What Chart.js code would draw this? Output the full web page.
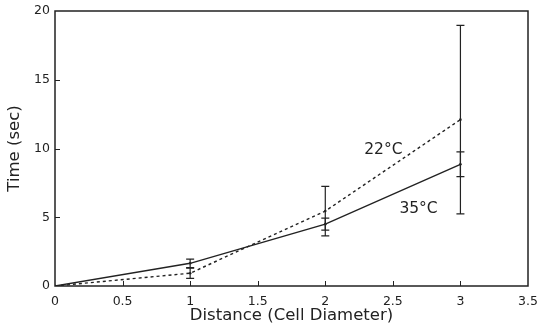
<!DOCTYPE html>
<html>
<head>
<meta charset="utf-8">
<script src="https://cdn.jsdelivr.net/npm/chart.js@4"></script>
<style>
  html, body { margin: 0; padding: 0; background: #fff; }
  #wrap { width: 539px; height: 331px; }
</style>
</head>
<body>
<div id="wrap"><canvas id="tsChart"></canvas></div>
<script>
// values
const distance = [0, 1, 2, 3];
const time22 = [0, 0.93, 5.45, 12.1];
const err22 = [0, 0.37, 1.8, 6.85];
const time35 = [0, 1.65, 4.5, 8.85];
const err35 = [0, 0.31, 0.43, 0.9];
const xTicks = [0, 0.5, 1, 1.5, 2, 2.5, 3, 3.5];
const yTicks = [0, 5, 10, 15, 20];
const seriesLabels = ["22°C", "35°C"];

const INK = "#222";
const FONT = "'DejaVu Sans', sans-serif";

function toPoints(ys) {
  return distance.map((d, i) => ({ x: d, y: ys[i] }));
}

// frame, inward ticks, error bars, curve labels
const decorations = {
  id: "decorations",
  afterDatasetsDraw(chart) {
    const { ctx, chartArea: a, scales: { x, y } } = chart;
    ctx.save();
    ctx.strokeStyle = INK;

    // box
    ctx.lineWidth = 1.5;
    ctx.strokeRect(a.left, a.top, a.right - a.left, a.bottom - a.top);

    // inward tick marks
    ctx.lineWidth = 1;
    ctx.beginPath();
    xTicks.slice(1, -1).forEach(v => {
      const px = Math.round(x.getPixelForValue(v)) + 0.5;
      ctx.moveTo(px, a.bottom);
      ctx.lineTo(px, a.bottom - 5);
    });
    yTicks.slice(1, -1).forEach(v => {
      const py = Math.round(y.getPixelForValue(v)) + 0.5;
      ctx.moveTo(a.left, py);
      ctx.lineTo(a.left + 5, py);
    });
    ctx.stroke();

    // error bars
    const bars = [[time22, err22], [time35, err35]];
    ctx.lineWidth = 1.2;
    bars.forEach(([vals, errs]) => {
      distance.forEach((d, i) => {
        if (!errs[i]) return;
        const px = x.getPixelForValue(d);
        const top = y.getPixelForValue(vals[i] + errs[i]);
        const bot = y.getPixelForValue(vals[i] - errs[i]);
        ctx.beginPath();
        ctx.moveTo(px, top); ctx.lineTo(px, bot);
        ctx.moveTo(px - 4, top); ctx.lineTo(px + 4, top);
        ctx.moveTo(px - 4, bot); ctx.lineTo(px + 4, bot);
        ctx.stroke();
      });
    });

    // curve labels
    ctx.fillStyle = INK;
    ctx.font = "15.5px " + FONT;
    ctx.textAlign = "center";
    ctx.textBaseline = "middle";
    ctx.fillText(seriesLabels[0], x.getPixelForValue(2.43), y.getPixelForValue(9.9));
    ctx.fillText(seriesLabels[1], x.getPixelForValue(2.69), y.getPixelForValue(5.6));
    ctx.restore();
  }
};

new Chart(document.getElementById("tsChart"), {
  type: "line",
  data: {
    datasets: [
      {
        label: seriesLabels[0],
        data: toPoints(time22),
        borderColor: INK,
        borderWidth: 1.4,
        borderDash: [3, 3],
        pointRadius: 1.3,
        pointBackgroundColor: INK,
        pointBorderWidth: 0,
        tension: 0
      },
      {
        label: seriesLabels[1],
        data: toPoints(time35),
        borderColor: INK,
        borderWidth: 1.4,
        pointRadius: 1.3,
        pointBackgroundColor: INK,
        pointBorderWidth: 0,
        tension: 0
      }
    ]
  },
  options: {
    responsive: true,
    maintainAspectRatio: false,
    animation: false,
    layout: { padding: 0 },
    plugins: { legend: { display: false }, tooltip: { enabled: false } },
    scales: {
      x: {
        type: "linear",
        min: 0,
        max: 3.5,
        afterBuildTicks: s => { s.ticks = xTicks.map(v => ({ value: v })); },
        afterFit: s => { s.height = 45; s.paddingLeft = 0; s.paddingRight = 11; },
        grid: { display: false, drawTicks: false },
        border: { display: false },
        ticks: {
          color: INK,
          font: { family: FONT, size: 12.5 },
          padding: 8,
          maxRotation: 0,
          callback: v => String(v)
        },
        title: {
          display: true,
          text: "Distance (Cell Diameter)",
          color: INK,
          font: { family: FONT, size: 16.5 },
          padding: { top: 0, bottom: 5 }
        }
      },
      y: {
        min: 0,
        max: 20,
        afterBuildTicks: s => { s.ticks = yTicks.map(v => ({ value: v })); },
        afterFit: s => { s.width = 55; s.paddingTop = 11; s.paddingBottom = 0; },
        grid: { display: false, drawTicks: false },
        border: { display: false },
        ticks: { color: INK, font: { family: FONT, size: 12.5 }, padding: 5, callback: v => String(v) },
        title: {
          display: true,
          text: "Time (sec)",
          color: INK,
          font: { family: FONT, size: 16.5 },
          padding: { top: 5, bottom: 0 }
        }
      }
    }
  },
  plugins: [decorations]
});
</script>
</body>
</html>
